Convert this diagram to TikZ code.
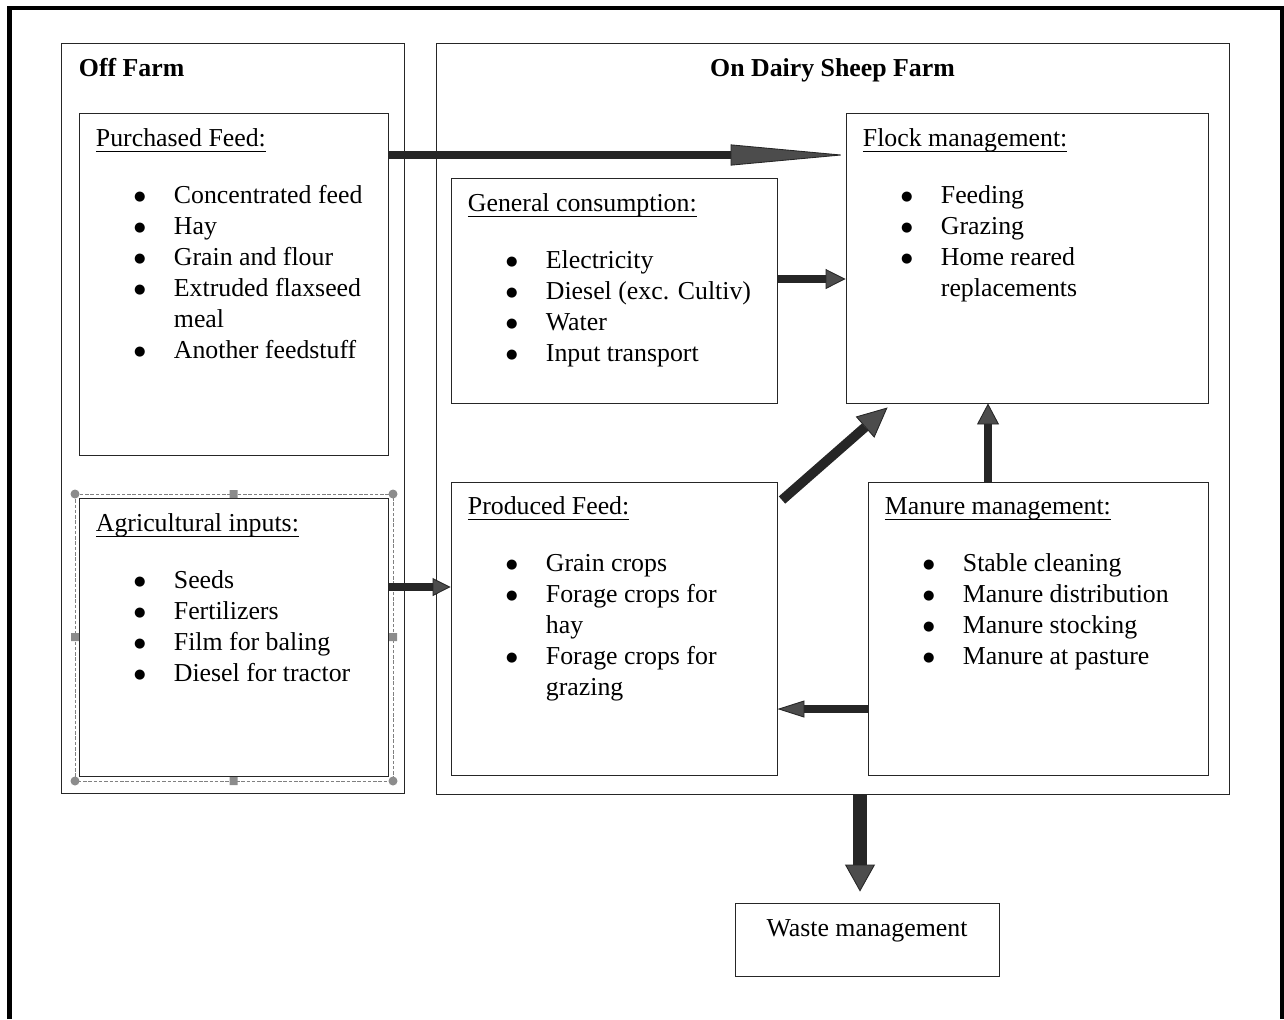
\documentclass[tikz,border=0pt]{standalone}
\usepackage{fontspec}
\setmainfont{Liberation Serif}
\newfontfamily\bulfont{DejaVu Sans}
\usepackage{array}
\usepackage{tkz-euclide}
\usetikzlibrary{fit,arrows.meta}
\newcommand{\bodyfont}{\fontsize{14.7pt}{17.6pt}\selectfont}
\newcommand{\ulin}[1]{\setbox0\hbox{#1}\rlap{\rule[-3pt]{\wd0}{0.6pt}}\box0}
\newcommand{\bul}{\raisebox{1.5pt}{\bulfont\fontsize{7.5pt}{8pt}\selectfont ●}}
\newcommand{\blist}[1]{\begin{tabular}[t]{@{}w{c}{0.2cm}@{\hspace{0.58cm}}l@{}}#1\end{tabular}}
\tikzset{
	frm/.style={draw=black!85, line width=0.5pt, inner sep=0pt},
	ttl/.style={anchor=base west, inner sep=0pt, font=\bodyfont},
	lst/.style={anchor=base west, inner sep=0pt, font=\bodyfont},
	blk/.style n args={3}{line width=#1, draw=black!85, -{Triangle[length=#2, width=#3, fill=gray!60!black, line width=0.5pt]}}
}

\begin{document}
\begin{tikzpicture}[x=0.02cm, y=-0.02cm]
	\useasboundingbox (0,0) rectangle (1284,1019);
	\tkzDefPoints{61/43/offA, 404/793/offB, 436/43/onA, 1229/794/onB}
	\tkzDefPoints{79/113/pfA, 388/455/pfB, 79/498/aiA, 388/776/aiB}
	\tkzDefPoints{451/178/gcA, 777/403/gcB, 846/113/fmA, 1208/403/fmB}
	\tkzDefPoints{451/482/prA, 777/775/prB, 868/482/mmA, 1208/775/mmB, 735/903/wmA, 999/976/wmB}
	\tkzDefPoints{388/155/p1, 777/279/p2, 388/587/p3, 782/500/p4, 988/482/p5, 868/709/p6, 860/794/p7}
	
	\draw[line width=2.8pt] (9.5,1019) -- (9.5,8) -- (1282,8) -- (1282,1019);
	
	\node[frm, fit=(offA)(offB)] (off) {};
	\node[frm, fit=(onA)(onB)] (on) {};
	\node[frm, fit=(pfA)(pfB)] (pf) {};
	\node[frm, fit=(aiA)(aiB)] (ai) {};
	\node[frm, fit=(gcA)(gcB)] (gc) {};
	\node[frm, fit=(fmA)(fmB)] (fm) {};
	\node[frm, fit=(prA)(prB)] (pr) {};
	\node[frm, fit=(mmA)(mmB)] (mm) {};
	\node[frm, fit=(wmA)(wmB)] (wm) {};
	
	\draw[gray, line width=0.4pt, dash pattern=on 2pt off 1pt] (75,494) rectangle (393,781);
	\fill[gray!90] (75,494) circle (4.5) (393,494) circle (4.5) (75,781) circle (4.5) (393,781) circle (4.5);
	\fill[gray!90] (229.5,490) rectangle ++(8,8) (229.5,777) rectangle ++(8,8) (71,633) rectangle ++(8,8) (389,633) rectangle ++(8,8);
	
	\node[ttl, font=\bodyfont\bfseries] (offt) at ([shift={(18,34)}]off.north west) {Off Farm};
	\node[ttl, font=\bodyfont\bfseries, anchor=base] (ont) at ([shift={(0,34)}]on.north) {On Dairy Sheep Farm};
	
	\node[ttl] (pft) at ([shift={(17,34)}]pf.north west) {\ulin{Purchased Feed:}};
	\node[lst] (pfl) at ([shift={(56,91)}]pf.north west) {\blist{\bul & Concentrated feed\\ \bul & Hay\\ \bul & Grain and flour\\ \bul & Extruded flaxseed\\ & meal\\ \bul & Another feedstuff}};
	
	\node[ttl] (ait) at ([shift={(17,34)}]ai.north west) {\ulin{Agricultural inputs:}};
	\node[lst] (ail) at ([shift={(56,91)}]ai.north west) {\blist{\bul & Seeds\\ \bul & Fertilizers\\ \bul & Film for baling\\ \bul & Diesel for tractor}};
	
	\node[ttl] (gct) at ([shift={(17,34)}]gc.north west) {\ulin{General consumption:}};
	\node[lst] (gcl) at ([shift={(56,91)}]gc.north west) {\blist{\bul & Electricity\\ \bul & Diesel (exc. Cultiv)\\ \bul & Water\\ \bul & Input transport}};
	
	\node[ttl] (fmt) at ([shift={(17,34)}]fm.north west) {\ulin{Flock management:}};
	\node[lst] (fml) at ([shift={(56,91)}]fm.north west) {\blist{\bul & Feeding\\ \bul & Grazing\\ \bul & Home reared\\ & replacements}};
	
	\node[ttl] (prt) at ([shift={(17,33)}]pr.north west) {\ulin{Produced Feed:}};
	\node[lst] (prl) at ([shift={(56,90)}]pr.north west) {\blist{\bul & Grain crops\\ \bul & Forage crops for\\ & hay\\ \bul & Forage crops for\\ & grazing}};
	
	\node[ttl] (mmt) at ([shift={(17,33)}]mm.north west) {\ulin{Manure management:}};
	\node[lst] (mml) at ([shift={(56,90)}]mm.north west) {\blist{\bul & Stable cleaning\\ \bul & Manure distribution\\ \bul & Manure stocking\\ \bul & Manure at pasture}};
	
	\node[ttl, anchor=base] (wmt) at ([shift={(0,34)}]wm.north) {Waste management};
	
	\draw[blk={4pt}{2.3cm}{0.42cm}] (p1) -- (p1 -| fm.west);
	\draw[blk={4.5pt}{0.4cm}{0.4cm}] (p2) -- (p2 -| fm.west);
	\draw[blk={5pt}{0.36cm}{0.36cm}] (p3) -- (p3 -| pr.west);
	\draw[blk={5.5pt}{0.6cm}{0.56cm}] (p4) -- ([shift={(42,4)}]fm.south west);
	\draw[blk={5pt}{0.42cm}{0.44cm}] (p5) -- (p5 |- fm.south);
	\draw[blk={4.5pt}{0.54cm}{0.34cm}] (p6) -- (p6 -| pr.east);
	\draw[blk={8pt}{0.54cm}{0.6cm}, shorten >=0.22cm] (p7) -- (p7 |- wm.north);
\end{tikzpicture}
\end{document}
